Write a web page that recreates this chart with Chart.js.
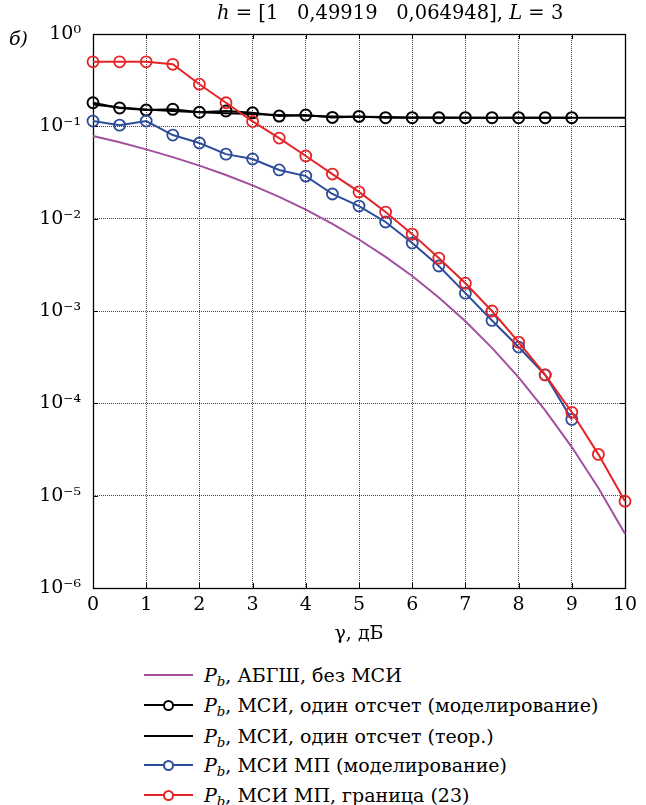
<!DOCTYPE html>
<html><head><meta charset="utf-8">
<script src="https://cdn.jsdelivr.net/npm/chart.js@4.4.0/dist/chart.umd.min.js"></script>
<style>
html,body{margin:0;padding:0;background:#fff;}
body{width:646px;height:805px;position:relative;overflow:hidden;font-family:"DejaVu Serif",serif;color:#000;}
#wrap{position:absolute;left:0;top:0;width:646px;height:660px;}
#title{position:absolute;left:217px;top:1px;font-size:19.5px;line-height:24px;white-space:pre;}
#panel{position:absolute;left:9px;top:26px;font-size:19px;line-height:24px;font-style:italic;}
.row{position:absolute;left:144px;width:500px;height:0;}
.ln{position:absolute;left:0;width:49px;top:-1px;height:0;border-top:2px solid;}
.mk{position:absolute;left:19px;top:-5px;width:7px;height:7px;border:2px solid;border-radius:50%;background:transparent;}
.tx{position:absolute;left:60px;top:-12px;line-height:24px;white-space:nowrap;font-size:19px;}
sub{font-size:0.7em;vertical-align:-0.3em;line-height:0;}
</style></head>
<body>
<div id="wrap"><canvas id="c" width="646" height="660"></canvas></div>
<div id="title"><i>h</i> = [1   0,49919   0,064948], <i>L</i> = 3</div>
<div id="panel">б)</div>
<div id="legend"></div>
<script>
// ---- data ----
const gammaDb = [0,0.5,1,1.5,2,2.5,3,3.5,4,4.5,5,5.5,6,6.5,7,7.5,8,8.5,9,9.5,10];
const awgnNoIsi = [0.0786,0.0671,0.0563,0.0464,0.0375,0.0297,0.0229,0.0172,0.0125,0.00879,0.00595,0.00386,0.00239,0.00140,0.000773,0.000399,0.000191,0.0000840,0.0000336,0.0000121,0.00000387];
const isiOneSampleSim = [0.180,0.158,0.150,0.153,0.142,0.1465,0.140,0.129,0.1325,0.125,0.128,0.124,0.124,0.124,0.124,0.124,0.124,0.124,0.124];
const isiOneSampleTheory = [0.172,0.160,0.152,0.147,0.142,0.139,0.136,0.133,0.130,0.128,0.127,0.126,0.125,0.125,0.124,0.124,0.124,0.124,0.124,0.124,0.124];
const isiMlSim = [0.114,0.103,0.114,0.0805,0.066,0.050,0.0443,0.0337,0.0289,0.0185,0.0137,0.0092,0.00544,0.00307,0.00156,0.00079,0.000407,0.000203,0.000067];
const isiMlBound = [0.50,0.50,0.50,0.47,0.286,0.180,0.113,0.0746,0.0477,0.0304,0.0195,0.0118,0.0068,0.00374,0.0020,0.0010,0.00046,0.000203,0.000080,0.000028,0.0000087];
const yTickValues = [1e-6,1e-5,1e-4,1e-3,1e-2,1e-1,1];
const yTickLabels = ['10⁻⁶','10⁻⁵','10⁻⁴','10⁻³','10⁻²','10⁻¹','10⁰'];
const xTickValues = [0,1,2,3,4,5,6,7,8,9,10];
const legendLabels = [
  'АБГШ, без МСИ',
  'МСИ, один отсчет (моделирование)',
  'МСИ, один отсчет (теор.)',
  'МСИ МП (моделирование)',
  'МСИ МП, граница (23)'
];

const C_PURPLE = '#a2509f', C_BLACK = '#000000', C_BLUE = '#2d4c9c', C_RED = '#e52427';
const pts = (ys) => ys.map((y, i) => ({x: gammaDb[i], y}));

const series = [
  {label: legendLabels[0], data: pts(awgnNoIsi), borderColor: C_PURPLE, borderWidth: 2, pointRadius: 0, order: 5},
  {label: legendLabels[1], data: pts(isiOneSampleSim), borderColor: C_BLACK, borderWidth: 2, pointRadius: 5.5, pointBorderWidth: 2, order: 3},
  {label: legendLabels[2], data: pts(isiOneSampleTheory), borderColor: C_BLACK, borderWidth: 2, pointRadius: 0, order: 4},
  {label: legendLabels[3], data: pts(isiMlSim), borderColor: C_BLUE, borderWidth: 2, pointRadius: 5.5, pointBorderWidth: 1.8, order: 2},
  {label: legendLabels[4], data: pts(isiMlBound), borderColor: C_RED, borderWidth: 2, pointRadius: 5.5, pointBorderWidth: 1.8, order: 1}
];
series.forEach(s => { s.pointBorderColor = s.borderColor; s.pointBackgroundColor = 'rgba(0,0,0,0)'; s.backgroundColor = 'rgba(0,0,0,0)'; s.fill = false; s.tension = 0; s.clip = false; s.pointHoverRadius = s.pointRadius; });

const framePlugin = {
  id: 'frame',
  beforeDatasetsDraw(chart) {
    const {ctx, chartArea: a, scales} = chart;
    ctx.save();
    ctx.strokeStyle = '#000'; ctx.lineWidth = 1;
    ctx.beginPath();
    const tl = 5;
    scales.x.ticks.forEach(t => {
      const px = Math.round(scales.x.getPixelForValue(t.value)) + 0.5;
      ctx.moveTo(px, a.bottom); ctx.lineTo(px, a.bottom - tl);
      ctx.moveTo(px, a.top); ctx.lineTo(px, a.top + tl);
    });
    scales.y.ticks.forEach(t => {
      const py = Math.round(scales.y.getPixelForValue(t.value)) + 0.5;
      ctx.moveTo(a.left, py); ctx.lineTo(a.left + tl, py);
      ctx.moveTo(a.right, py); ctx.lineTo(a.right - tl, py);
    });
    ctx.stroke();
    ctx.lineWidth = 1.3;
    ctx.strokeRect(Math.round(a.left) + 0.5, Math.round(a.top) + 0.5, Math.round(a.right - a.left), Math.round(a.bottom - a.top));
    ctx.restore();
  }
};

const tickFont = {family: '"DejaVu Serif", serif', size: 19};

new Chart(document.getElementById('c'), {
  type: 'line',
  data: {datasets: series},
  options: {
    responsive: false,
    animation: false,
    events: [],
    layout: {padding: {left: 0, right: 21, top: 34, bottom: 0}},
    plugins: {legend: {display: false}, tooltip: {enabled: false}, title: {display: false}},
    scales: {
      x: {
        type: 'linear', min: 0, max: 10,
        afterBuildTicks: (s) => { s.ticks = xTickValues.map(v => ({value: v})); },
        afterFit: (s) => { s.height = 72; },
        ticks: {font: tickFont, color: '#000', padding: 6, maxRotation: 0, autoSkip: false},
        grid: {color: '#444', lineWidth: 1, drawTicks: false},
        border: {display: false, dash: [1, 1]},
        title: {display: true, text: 'γ, дБ', font: tickFont, color: '#000', padding: {top: 0, bottom: 15}}
      },
      y: {
        type: 'logarithmic', min: 1e-6, max: 1,
        afterBuildTicks: (s) => { s.ticks = yTickValues.map(v => ({value: v})); },
        afterFit: (s) => { s.width = 93; },
        ticks: {font: tickFont, color: '#000', padding: 12, autoSkip: false,
          callback: (v) => yTickLabels[yTickValues.indexOf(v)]},
        grid: {color: '#444', lineWidth: 1, drawTicks: false},
        border: {display: false, dash: [1, 1]}
      }
    }
  },
  plugins: [framePlugin]
});

// ---- HTML legend ----
const legendRows = [675, 705, 736, 765, 795];
const lg = document.getElementById('legend');
series.forEach((s, i) => {
  const r = document.createElement('div');
  r.className = 'row';
  r.style.top = legendRows[i] + 'px';
  let html = '<div class="ln" style="border-color:' + s.borderColor + '"></div>';
  if (s.pointRadius > 0) html += '<div class="mk" style="border-color:' + s.borderColor + ';background:#fff"></div>';
  html += '<div class="tx"><i>P</i><sub><i>b</i></sub>, ' + legendLabels[i] + '</div>';
  r.innerHTML = html;
  lg.appendChild(r);
});
</script>
</body></html>
